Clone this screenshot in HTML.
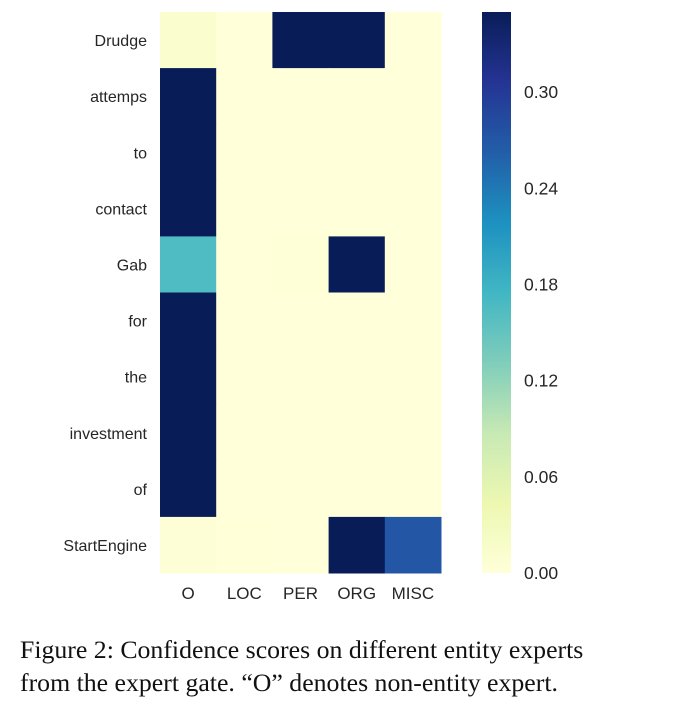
<!DOCTYPE html>
<html><head><meta charset="utf-8"><style>
body{margin:0;background:#fff;width:690px;height:717px;overflow:hidden}
svg text{font-family:"Liberation Sans",sans-serif;fill:#262626}
.cap{position:absolute;left:20px;top:633px;font-family:"Liberation Serif",serif;font-size:25.8px;line-height:33px;color:#111;white-space:nowrap}
</style></head><body>
<svg id="chart" width="690" height="717" style="position:absolute;left:0;top:0">
<defs><linearGradient id="cg" x1="0" y1="1" x2="0" y2="0"></linearGradient></defs>
<g id="cells"></g><g id="labels"></g><g id="cbar"></g>
</svg>
<div class="cap">Figure 2: Confidence scores on different entity experts<br>from the expert gate. “O” denotes non-entity expert.</div>
<script>
const rows=["Drudge","attemps","to","contact","Gab","for","the","investment","of","StartEngine"];
const cols=["O","LOC","PER","ORG","MISC"];
const values=[
[0.012,0,0.5,0.5,0],
[0.5,0,0,0,0],
[0.5,0,0,0,0],
[0.5,0,0,0,0],
[0.165,0,0.003,0.5,0],
[0.5,0,0,0,0],
[0.5,0,0,0,0],
[0.5,0,0,0,0],
[0.5,0,0,0,0],
[0.004,0.001,0,0.5,0.27]];
const cbTicks=[0,0.06,0.12,0.18,0.24,0.30];
const vmax=0.35;
const stops=["#ffffd9","#edf8b1","#c7e9b4","#7fcdbb","#41b6c4","#1d91c0","#225ea8","#253494","#081d58"];
function hex(h){return [1,3,5].map(i=>parseInt(h.substr(i,2),16));}
function color(v){let t=Math.max(0,Math.min(1,v/vmax))*(stops.length-1);let i=Math.min(Math.floor(t),stops.length-2),f=t-i;
const a=hex(stops[i]),b=hex(stops[i+1]);return "rgb("+a.map((x,k)=>Math.round(x+(b[k]-x)*f)).join(",")+")";}
const X0=160,X1=441,Y0=12,Y1=573;
const cw=(X1-X0)/cols.length,rh=(Y1-Y0)/rows.length;
const xs=j=>X0+j*cw, ys=i=>Y0+i*rh;
const NS="http://www.w3.org/2000/svg";
const cells=document.getElementById("cells"),labels=document.getElementById("labels"),cbar=document.getElementById("cbar");
values.forEach((r,i)=>r.forEach((v,j)=>{const e=document.createElementNS(NS,"rect");
e.setAttribute("x",xs(j));e.setAttribute("y",ys(i));e.setAttribute("width",cw+0.5);e.setAttribute("height",rh+0.5);e.setAttribute("fill",color(v));


cells.appendChild(e);}));
rows.forEach((r,i)=>{const t=document.createElementNS(NS,"text");t.setAttribute("x",147);t.setAttribute("y",ys(i)+rh/2+6);t.setAttribute("text-anchor","end");t.setAttribute("font-size","16");t.textContent=r;


labels.appendChild(t);});
cols.forEach((c,j)=>{const t=document.createElementNS(NS,"text");t.setAttribute("x",xs(j)+cw/2);t.setAttribute("y",599);t.setAttribute("text-anchor","middle");t.setAttribute("font-size","17");t.textContent=c;


labels.appendChild(t);});
const g=document.getElementById("cg");
for(let k=0;k<=40;k++){const s=document.createElementNS(NS,"stop");s.setAttribute("offset",k/40);s.setAttribute("stop-color",color(vmax*k/40));g.appendChild(s);}
const cb=document.createElementNS(NS,"rect");cb.setAttribute("x",482);cb.setAttribute("y",Y0);cb.setAttribute("width",29);cb.setAttribute("height",Y1-Y0);cb.setAttribute("fill","url(#cg)");


cbar.appendChild(cb);
const cy=v=>Y1-(v/vmax)*(Y1-Y0);
cbTicks.forEach(v=>{const t=document.createElementNS(NS,"text");t.setAttribute("x",524);t.setAttribute("y",cy(v)+6);t.setAttribute("font-size","17.5");t.textContent=v.toFixed(2);


cbar.appendChild(t);});
</script>
</body></html>
